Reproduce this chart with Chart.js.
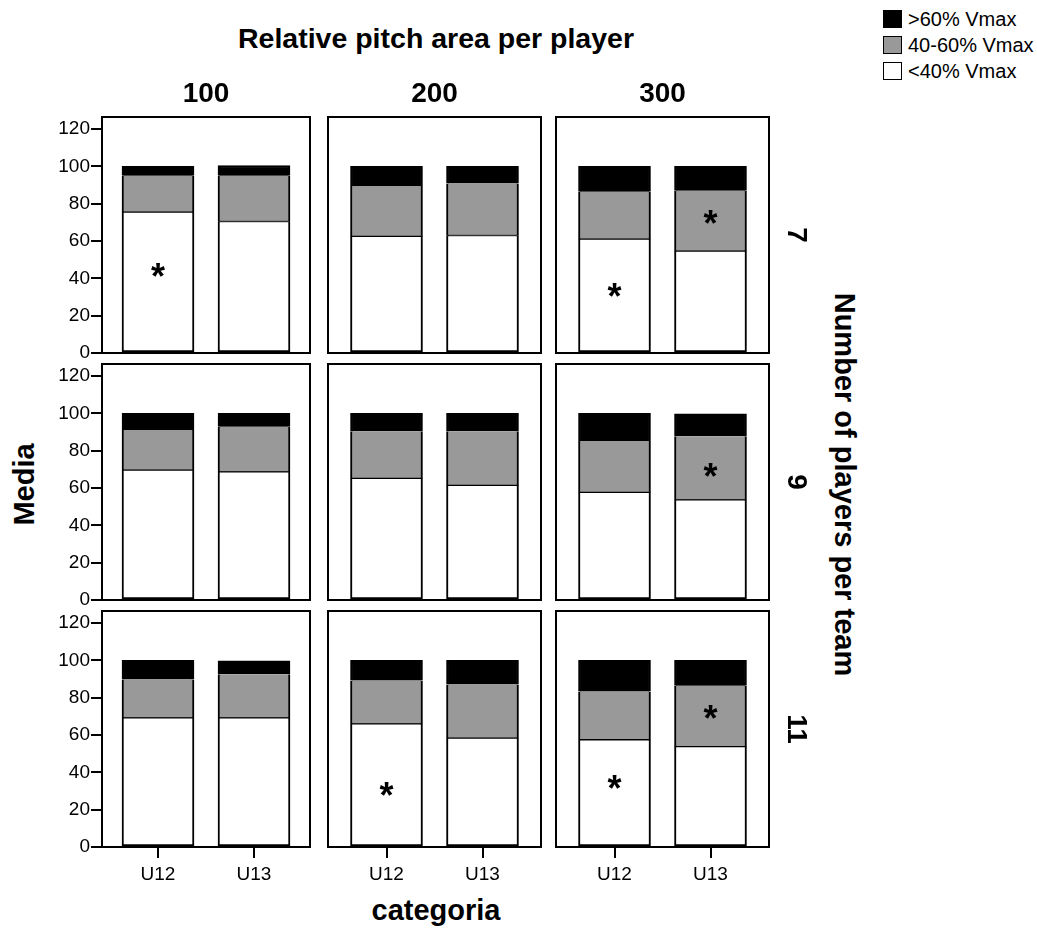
<!DOCTYPE html>
<html>
<head>
<meta charset="utf-8">
<script src="https://cdn.jsdelivr.net/npm/chart.js@4.4.1/dist/chart.umd.min.js"></script>
<style>
    body { margin: 0; background: #fff; font-family: 'Liberation Sans', Arial, sans-serif; color: #000; }
    #page { position: relative; width: 1037px; height: 932px; overflow: hidden; }
    canvas { position: absolute; }
    .lbl { position: absolute; font-weight: bold; white-space: nowrap; transform-origin: center center; }
    .legend { position: absolute; left: 883px; top: 6px; font-size: 20px; }
    .legend div { height: 26px; display: flex; align-items: center; }
    .legend span.box { width: 19px; height: 18px; border: 1px solid #000; box-sizing: border-box; margin-right: 6px; display: inline-block; }
</style>
</head>
<body>
<div id="page">
    <div class="lbl" id="title" style="font-size:28.5px;">Relative pitch area per player</div>
    <div class="lbl" id="xTitle" style="font-size:29px;">categoria</div>
    <div class="lbl" id="yTitle" style="font-size:29px;">Media</div>
    <div class="lbl" id="rTitle" style="font-size:29px;">Number of players per team</div>
    <div class="legend">
        <div><span class="box" style="background:#000"></span>&gt;60% Vmax</div>
        <div><span class="box" style="background:#999"></span>40-60% Vmax</div>
        <div><span class="box" style="background:#fff"></span>&lt;40% Vmax</div>
    </div>
</div>
<script>
'use strict';

// 데이터
const categories = ['U12', 'U13'];
const pitchAreas = ['100', '200', '300'];   // 열
const playerCounts = ['7', '9', '11'];     // 행
const yTicks = [0, 20, 40, 60, 80, 100, 120];

// 패널 순서: 7/100, 7/200, 7/300, 9/100 ... (각 [U12, U13])
const below40 = [
    [75.5, 70.5], [62.5, 63.0], [61.0, 54.6],
    [69.6, 68.7], [65.2, 61.4], [57.7, 53.7],
    [69.2, 69.2], [66.0, 58.4], [57.5, 53.8]
];
const from40to60 = [
    [19.5, 24.5], [27.0, 27.9], [25.4, 32.4],
    [21.5, 24.1], [25.2, 29.1], [27.5, 34.1],
    [20.6, 23.4], [23.2, 28.7], [25.8, 32.6]
];
const above60 = [
    [5.0, 5.5], [10.5, 9.1], [13.6, 13.0],
    [8.9, 7.2], [9.6, 9.5], [14.8, 12.0],
    [10.2, 7.2], [10.8, 12.9], [16.7, 13.6]
];
// 유의 표시 (*) : 패널, 범주, 값 높이
const starPanels = [0, 2, 2, 5, 7, 8, 8];
const starCats = [0, 0, 1, 1, 0, 0, 1];
const starValues = [44.5, 33.8, 73.0, 69.6, 31.0, 34.6, 72.2];

// 레이아웃
const FONT = "'Liberation Sans', Arial, sans-serif";
const colLeft = [102, 328, 556];
const colWidth = [208, 213, 213];
const rowTop = [117, 364, 611];
const rowHeight = 236;
const PAD_L = 70, PAD_T = 16, PAD_R = 10, PAD_B = 45;
const BAR_SPACING = 96; // 범주 간격(px)

const framePlugin = {
    id: 'frame',
    afterDraw(chart) {
        const { ctx, chartArea: a } = chart;
        ctx.save();
        ctx.strokeStyle = '#000';
        ctx.lineWidth = 2;
        ctx.strokeRect(a.left, a.top, a.right - a.left, a.bottom - a.top);
        ctx.restore();
    }
};

const starPlugin = {
    id: 'stars',
    afterDatasetsDraw(chart, args, opts) {
        const { ctx, scales } = chart;
        ctx.save();
        ctx.fillStyle = '#000';
        ctx.font = 'bold 36px ' + FONT;
        ctx.textAlign = 'center';
        ctx.textBaseline = 'alphabetic';
        const m = ctx.measureText('*');
        const shift = (m.actualBoundingBoxAscent - m.actualBoundingBoxDescent) / 2;
        starPanels.forEach((p, i) => {
            if (p !== opts.panel) return;
            const x = scales.x.getPixelForValue(starCats[i]);
            const y = scales.y.getPixelForValue(starValues[i]);
            ctx.fillText('*', x, y + shift);
        });
        ctx.restore();
    }
};

function toPoints(arr) {
    return arr.map((v, i) => ({ x: i, y: v }));
}

function makePanel(row, col) {
    const panel = row * 3 + col;
    const w = colWidth[col];
    const canvas = document.createElement('canvas');
    canvas.width = w + PAD_L + PAD_R;
    canvas.height = rowHeight + PAD_T + PAD_B;
    canvas.style.left = (colLeft[col] - PAD_L) + 'px';
    canvas.style.top = (rowTop[row] - PAD_T) + 'px';
    document.getElementById('page').appendChild(canvas);

    const half = (w / 2) / BAR_SPACING;
    const barStyle = { barThickness: 72, borderColor: '#000', borderSkipped: false };

    new Chart(canvas, {
        type: 'bar',
        data: {
            datasets: [
                { label: '<40% Vmax', data: toPoints(below40[panel]), backgroundColor: '#fff', ...barStyle,
                  borderWidth: { top: 1, left: 2, right: 2, bottom: 2 } },
                { label: '40-60% Vmax', data: toPoints(from40to60[panel]), backgroundColor: '#999', ...barStyle,
                  borderWidth: { top: 0, left: 2, right: 2, bottom: 1 } },
                { label: '>60% Vmax', data: toPoints(above60[panel]), backgroundColor: '#000', ...barStyle,
                  borderWidth: { top: 2, left: 2, right: 2, bottom: 0 } }
            ]
        },
        options: {
            responsive: false,
            animation: false,
            events: [],
            layout: { padding: { top: PAD_T, right: PAD_R, left: 0, bottom: 0 } },
            plugins: {
                legend: { display: false },
                tooltip: { enabled: false },
                stars: { panel: panel }
            },
            scales: {
                x: {
                    type: 'linear',
                    offset: false,
                    stacked: true,
                    min: 0.5 - half,
                    max: 0.5 + half,
                    afterBuildTicks: s => { s.ticks = categories.map((c, i) => ({ value: i })); },
                    afterFit: s => { s.height = PAD_B; },
                    ticks: {
                        display: row === 2,
                        callback: v => categories[v],
                        color: '#000',
                        font: { size: 19, family: FONT },
                        padding: 5,
                        maxRotation: 0
                    },
                    grid: { offset: false, drawOnChartArea: false, drawTicks: row === 2, tickLength: 11, color: '#000', lineWidth: 2 },
                    border: { display: true, color: '#000', width: 2 }
                },
                y: {
                    stacked: true,
                    min: 0,
                    max: 126.5,
                    afterBuildTicks: s => { s.ticks = yTicks.map(v => ({ value: v })); },
                    afterFit: s => { s.width = PAD_L; },
                    ticks: {
                        display: col === 0,
                        color: '#000',
                        font: { size: 19, family: FONT },
                        padding: 1
                    },
                    grid: { drawOnChartArea: false, drawTicks: col === 0, tickLength: 11, color: '#000', lineWidth: 2 },
                    border: { display: true, color: '#000', width: 2 }
                }
            }
        },
        plugins: [starPlugin, framePlugin]
    });
}

// 텍스트 라벨 배치 (중심 좌표 기준)
function placeLabel(el, cx, cy, rotate) {
    const r = el.getBoundingClientRect();
    el.style.left = (cx - r.width / 2) + 'px';
    el.style.top = (cy - r.height / 2) + 'px';
    if (rotate) el.style.transform = `rotate(${rotate}deg)`;
}

function addText(text, size, cx, cy, rotate) {
    const el = document.createElement('div');
    el.className = 'lbl';
    el.style.fontSize = size + 'px';
    el.textContent = text;
    document.getElementById('page').appendChild(el);
    placeLabel(el, cx, cy, rotate);
}

document.addEventListener('DOMContentLoaded', () => {
    for (let r = 0; r < 3; r++) {
        for (let c = 0; c < 3; c++) makePanel(r, c);
    }
    pitchAreas.forEach((t, c) => addText(t, 28, colLeft[c] + colWidth[c] / 2, 93));
    playerCounts.forEach((t, r) => addText(t, 28, 797, rowTop[r] + rowHeight / 2, 90));
    placeLabel(document.getElementById('title'), 436, 38);
    placeLabel(document.getElementById('xTitle'), 436, 910);
    placeLabel(document.getElementById('yTitle'), 24, 484, -90);
    placeLabel(document.getElementById('rTitle'), 845, 484, 90);
});
</script>
</body>
</html>
